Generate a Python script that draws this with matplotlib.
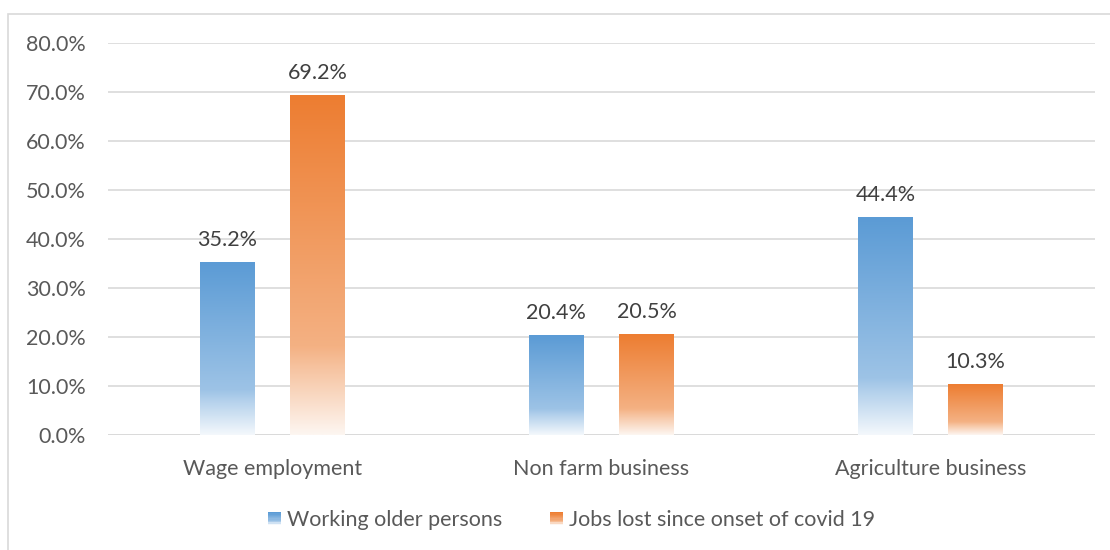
import numpy as np
import matplotlib
matplotlib.use("Agg")
import matplotlib.pyplot as plt
from matplotlib.colors import to_rgb
from matplotlib.patches import Rectangle
from matplotlib.legend_handler import HandlerBase

categories = ["Wage employment", "Non farm business", "Agriculture business"]
series_names = ["Working older persons", "Jobs lost since onset of covid 19"]
working_older = [35.2, 20.4, 44.4]
jobs_lost = [69.2, 20.5, 10.3]
yticks = [0, 10, 20, 30, 40, 50, 60, 70, 80]

# top colour, mid colour, bottom (almost white) colour for each series
palettes = [
    ("#5B9BD5", "#9DC3E6", "#F4F8FC"),
    ("#ED7D31", "#F4B183", "#FDF6F1"),
]

plt.rcParams["font.family"] = ["Lato", "DejaVu Sans"]
FS = 15.5

fig = plt.figure(figsize=(11.1, 5.5), dpi=100)
ax = fig.add_axes([108 / 1110, 1 - 435 / 550, (1095 - 108) / 1110, (435 - 43) / 550])


def gradient(pal, n=256):
    top, mid, bot = (np.array(to_rgb(c)) for c in pal)
    t = np.linspace(0, 1, n)[:, None]
    stops = [(0.0, top), (0.74, mid), (0.80, mid * 0.75 + bot * 0.25), (1.0, bot)]
    out = np.zeros((n, 3))
    for (t0, c0), (t1, c1) in zip(stops[:-1], stops[1:]):
        m = (t[:, 0] >= t0) & (t[:, 0] <= t1)
        f = ((t[m, 0] - t0) / (t1 - t0))[:, None]
        out[m] = c0 * (1 - f) + c1 * f
    return out[:, None, :]


x = np.arange(len(categories))
width = 0.165
offset = 0.137
containers = []
for i, (vals, pal) in enumerate(zip([working_older, jobs_lost], palettes)):
    bars = ax.bar(x + (i * 2 - 1) * offset, vals, width, color="none",
                  edgecolor="none", zorder=2, label=series_names[i])
    grad = gradient(pal)
    for p in bars.patches:
        x0, y0 = p.get_x(), p.get_y()
        ax.imshow(grad, extent=[x0, x0 + p.get_width(), y0, y0 + p.get_height()],
                  aspect="auto", origin="upper", zorder=2, interpolation="bilinear")
    containers.append(bars)
    ax.bar_label(bars, labels=[f"{v:.1f}%" for v in vals], padding=9,
                 fontsize=FS, color="#404040")

ax.set_xlim(-0.5, len(categories) - 0.5)
ax.set_ylim(0, 80)
ax.set_yticks(yticks)
ax.set_yticklabels([f"{v:.1f}%" for v in yticks])
ax.set_xticks(x)
ax.set_xticklabels(categories)
ax.tick_params(axis="y", length=0, pad=16, labelsize=FS, labelcolor="#595959")
ax.tick_params(axis="x", length=0, pad=17, labelsize=FS, labelcolor="#595959")
ax.yaxis.grid(True, color="#D9D9D9", linewidth=1.2)
ax.set_axisbelow(True)
for s in ax.spines.values():
    s.set_visible(False)
ax.axhline(0, color="#D9D9D9", linewidth=1.2, zorder=1)


class GradientHandler(HandlerBase):
    def __init__(self, pal):
        super().__init__()
        self.pal = pal

    def create_artists(self, legend, orig_handle, xdescent, ydescent, width,
                       height, fontsize, trans):
        grad = gradient(self.pal, n=10)[:, 0, :]
        side = 9.5
        x0 = -xdescent + (width - side)
        y0 = -ydescent + (height - side) / 2
        arts = []
        n = len(grad)
        for k, c in enumerate(grad):
            y = y0 + side * (1 - (k + 1) / n)
            arts.append(Rectangle((x0, y), side, side / n, facecolor=c,
                                  edgecolor="none", transform=trans))
        return arts


leg = fig.legend(containers, series_names, loc="center", bbox_to_anchor=(0.515, 1 - 520 / 550),
                 ncol=2, frameon=False, fontsize=FS, labelcolor="#595959",
                 handler_map={containers[0]: GradientHandler(palettes[0]),
                              containers[1]: GradientHandler(palettes[1])},
                 handlelength=0.62, handletextpad=0.28, columnspacing=2.2)

# light frame around the chart area
fig.patches.append(Rectangle((8 / 1110, -0.2), 1.2, 1.2 - 14 / 550, transform=fig.transFigure,
                             facecolor="none", edgecolor="#D9D9D9", linewidth=1.2))

fig.savefig("out.png", dpi=100)
